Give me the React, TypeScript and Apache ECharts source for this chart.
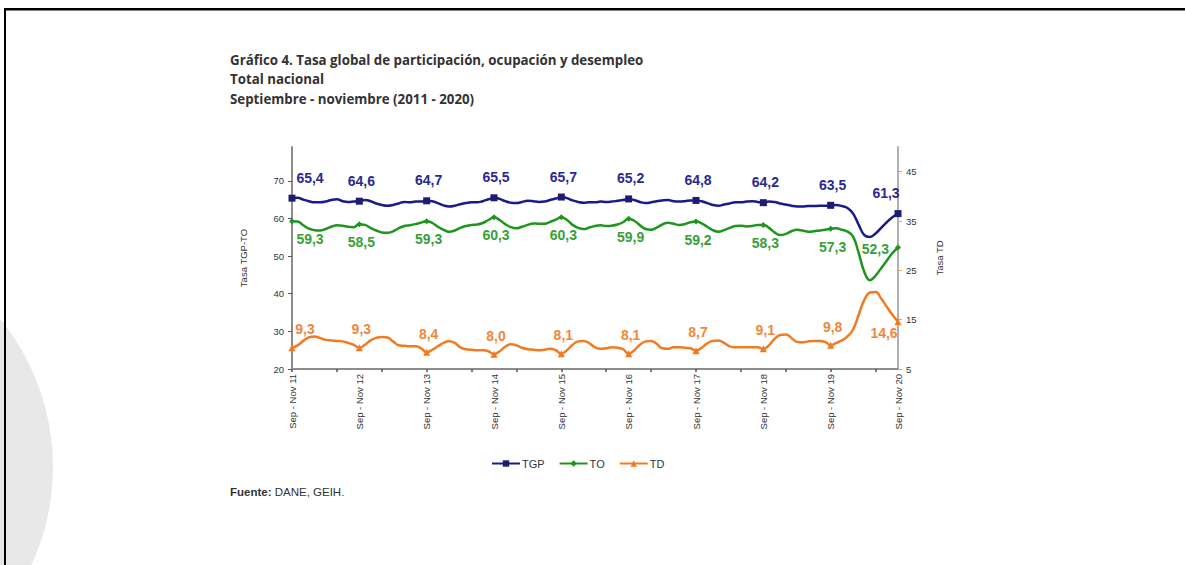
import React, { useEffect, useRef } from "react";
import * as echarts from "echarts";

const QUARTERS = ["Sep - Nov", "Oct - Dic", "Nov - Ene", "Dic - Feb", "Ene - Mar", "Feb - Abr", "Mar - May", "Abr - Jun", "May - Jul", "Jun - Ago", "Jul - Sep", "Ago - Oct"];
const START_YEAR = 11;
const END_YEAR = 20;

const TGP = [
  65.4, 65.5, 65.0, 64.6, 64.3, 64.3, 64.5, 64.9, 65.1, 64.6, 64.4, 64.5, 64.6,
  64.9, 64.6, 64.0, 63.6, 63.4, 63.6, 64.0, 64.4, 64.3, 64.5, 64.5, 64.7,
  64.6, 64.1, 63.5, 63.2, 63.4, 63.8, 64.1, 64.3, 64.3, 64.6, 65.1, 65.5,
  65.2, 64.6, 64.2, 64.1, 64.4, 64.7, 64.6, 64.4, 64.5, 64.9, 65.3, 65.7,
  65.4, 64.8, 64.4, 64.2, 64.3, 64.3, 64.5, 64.4, 64.5, 64.7, 64.9, 65.2,
  64.9, 64.4, 64.1, 64.3, 64.6, 64.8, 64.9, 64.6, 64.5, 64.6, 64.8, 64.8,
  64.6, 64.1, 63.6, 63.4, 63.7, 64.0, 64.3, 64.3, 64.5, 64.6, 64.4, 64.2,
  64.5, 64.4, 64.0, 63.7, 63.4, 63.2, 63.2, 63.3, 63.3, 63.4, 63.4, 63.5,
  63.6, 63.3, 62.8, 61.3, 58.3, 55.6, 55.1, 56.0, 57.5, 59.0, 60.3, 61.3,
];

const TO = [
  59.3, 59.2, 58.2, 57.3, 56.9, 56.8, 57.2, 57.8, 58.2, 58.1, 57.8, 57.7, 58.5,
  58.3, 57.5, 56.8, 56.3, 56.2, 56.6, 57.4, 58.0, 58.2, 58.5, 58.9, 59.3,
  58.8, 57.8, 57.0, 56.5, 56.8, 57.5, 58.0, 58.3, 58.4, 58.8, 59.6, 60.3,
  59.6, 58.5, 57.7, 57.4, 57.8, 58.3, 58.7, 58.6, 58.6, 59.1, 59.7, 60.3,
  59.6, 58.3, 57.5, 57.2, 57.6, 58.0, 58.2, 58.0, 58.1, 58.4, 59.0, 59.9,
  59.4, 58.2, 57.2, 57.0, 57.6, 58.4, 58.9, 58.6, 58.3, 58.5, 59.0, 59.2,
  58.7, 57.8, 56.9, 56.5, 56.9, 57.5, 58.0, 58.1, 57.9, 58.0, 58.3, 58.3,
  57.5, 56.3, 55.6, 55.9, 56.6, 57.0, 56.8, 56.5, 56.6, 56.8, 57.0, 57.3,
  57.4, 57.0, 56.5, 55.2, 50.8, 45.8, 43.6, 44.8, 46.8, 48.8, 50.8, 52.3,
];

const TD = [
  9.3, 9.8, 10.7, 11.4, 11.6, 11.3, 10.9, 10.8, 10.7, 10.6, 10.3, 9.9, 9.3,
  9.9, 10.8, 11.3, 11.5, 11.4, 10.6, 9.8, 9.7, 9.6, 9.6, 9.2, 8.4,
  8.9, 9.6, 10.3, 10.6, 10.3, 9.4, 9.0, 8.9, 8.8, 8.8, 8.6, 8.0,
  8.6, 9.5, 10.0, 9.8, 9.3, 9.0, 8.9, 8.8, 8.9, 9.1, 8.8, 8.1,
  8.8, 9.9, 10.6, 10.7, 10.2, 9.4, 9.1, 9.2, 9.4, 9.3, 9.0, 8.1,
  8.8, 9.9, 10.6, 10.7, 10.1, 9.2, 9.1, 9.4, 9.4, 9.3, 9.2, 8.7,
  9.3, 10.2, 10.7, 10.8, 10.3, 9.6, 9.4, 9.4, 9.4, 9.4, 9.4, 9.1,
  9.8, 11.1, 11.9, 12.0, 11.3, 10.5, 10.4, 10.6, 10.7, 10.7, 10.5, 9.8,
  10.3, 10.8, 11.6, 13.0, 16.0, 19.0, 20.5, 20.6, 19.3, 17.6, 16.0, 14.6,
];

const LEFT_TICKS = [20, 30, 40, 50, 60, 70];
const RIGHT_TICKS = [5, 15, 25, 35, 45];

const TITLE_LINES = [
  "Gráfico 4. Tasa global de participación, ocupación y desempleo",
  "Total nacional",
  "Septiembre - noviembre (2011 - 2020)",
];

function buildCategories(): string[] {
  const cats: string[] = [];
  for (let y = START_YEAR; y <= END_YEAR; y++) {
    for (let q = 0; q < QUARTERS.length; q++) {
      if (y === END_YEAR && q > 0) break;
      const yr = q >= 2 ? y + 1 : y;
      cats.push(QUARTERS[q] + " " + String(yr));
    }
  }
  return cats;
}

const fmt = (v: number) => v.toFixed(1).replace(".", ",");

function buildData(values: number[], symbol: string, size: number, labelFor: (i: number, last: boolean) => any) {
  return values.map((v, i) => {
    if (i % 12 === 0) {
      return {
        value: v,
        symbol,
        symbolSize: size,
        label: { show: true, ...labelFor(i, i === values.length - 1) },
      };
    }
    return { value: v, symbol: "none" };
  });
}

export default function App() {
  const ref = useRef<HTMLDivElement>(null);
  useEffect(() => {
    if (!ref.current) return;
    const chart = echarts.init(ref.current, null, { renderer: "svg" });
    const categories = buildCategories();
    const labelFont = { fontFamily: "Liberation Sans, Arial, sans-serif", fontSize: 14, fontWeight: "bold" as const };

    const tgpData = buildData(TGP, "rect", 7, (i, last) => {
      if (i === 0) return { position: "top", distance: 10, offset: [18, 0] };
      if (last) return { position: "top", distance: 10, offset: [-12, 0] };
      return { position: "top", distance: 10, offset: [2, 0] };
    });
    const toData = buildData(TO, "diamond", 6, (i, last) => {
      if (i === 0) return { position: "bottom", distance: 8, offset: [18, 0] };
      if (last) return { position: "left", distance: 6, offset: [0, 2] };
      return { position: "bottom", distance: 8, offset: [2, 0] };
    });
    const tdData = buildData(TD, "triangle", 7, (i, last) => {
      if (i === 0) return { position: "top", distance: 8, offset: [13, 0] };
      if (last) return { position: "bottom", distance: 1, offset: [-14, 0] };
      return { position: "top", distance: 8, offset: [2, 0] };
    });

    const axisText = { color: "#333", fontSize: 9.5, fontFamily: "Liberation Sans, Arial, sans-serif" };

    chart.setOption({
      animation: false,
      backgroundColor: "#ffffff",
      textStyle: { fontFamily: "Liberation Sans, Arial, sans-serif" },
      graphic: [
        { type: "circle", z: -10, shape: { cx: -181, cy: 467, r: 234 }, style: { fill: "#e8e8e8" }, silent: true },
        { type: "rect", z: 100, shape: { x: 4, y: 8, width: 1181, height: 2.5 }, style: { fill: "#000" } },
        { type: "rect", z: 100, shape: { x: 4, y: 8, width: 2, height: 557 }, style: { fill: "#000" } },
        ...TITLE_LINES.map((t, k) => ({
          type: "text",
          left: 230,
          top: 53 + k * 19.5,
          style: { text: t, fill: "#333", font: "bold 13.3px 'Open Sans', 'Noto Sans', sans-serif" },
        })),
        {
          type: "text",
          left: 230,
          top: 486,
          style: {
            text: "{b|Fuente:} DANE, GEIH.",
            fill: "#333",
            font: "11.5px 'Liberation Sans', Arial, sans-serif",
            rich: {
              b: { fontWeight: "bold", fontSize: 11.5, fill: "#333", fontFamily: "Liberation Sans, Arial, sans-serif" },
            },
          },
        },
      ],
      legend: {
        left: 486,
        top: 453,
        itemWidth: 28,
        itemHeight: 8,
        itemGap: 14,
        textStyle: { color: "#333", fontSize: 11, fontFamily: "Liberation Sans, Arial, sans-serif", padding: [0, 0, 0, -3] },
        data: ["TGP", "TO", "TD"],
      },
      grid: { left: 292, right: 287, top: 147, bottom: 196, containLabel: false },
      xAxis: {
        type: "category",
        data: categories,
        boundaryGap: false,
        axisLine: { lineStyle: { color: "#8c8c8c", width: 2 } },
        axisTick: { show: true, interval: 7, length: 3, lineStyle: { color: "#555", width: 1.5 } },
        axisLabel: { ...axisText, interval: 11, rotate: 90, margin: 5 },
        splitLine: { show: false },
      },
      yAxis: [
        {
          type: "value",
          min: 20,
          max: 79,
          interval: 10,
          name: "Tasa TGP-TO",
          nameLocation: "middle",
          nameRotate: 90,
          nameGap: 44,
          nameTextStyle: { ...axisText },
          axisLine: { show: true, lineStyle: { color: "#8c8c8c", width: 2 } },
          axisTick: { show: true, length: 4, lineStyle: { color: "#555" } },
          axisLabel: {
            ...axisText,
            margin: 8,
            showMaxLabel: false,
            formatter: (v: number) => (LEFT_TICKS.indexOf(v) >= 0 ? String(v) : ""),
          },
          splitLine: { show: false },
        },
        {
          type: "value",
          min: 5,
          max: 50,
          interval: 10,
          position: "right",
          name: "Tasa TD",
          nameLocation: "middle",
          nameRotate: 90,
          nameGap: 36,
          nameTextStyle: { ...axisText },
          axisLine: { show: true, lineStyle: { color: "#b0b0b0", width: 2 } },
          axisTick: { show: true, length: 4, lineStyle: { color: "#e8a060" } },
          axisLabel: {
            ...axisText,
            margin: 8,
            showMaxLabel: false,
            formatter: (v: number) => (RIGHT_TICKS.indexOf(v) >= 0 ? String(v) : ""),
          },
          splitLine: { show: false },
        },
      ],
      series: [
        {
          name: "TGP",
          type: "line",
          yAxisIndex: 0,
          data: tgpData,
          smooth: 0.45,
          symbol: "rect",
          symbolSize: 7,
          showAllSymbol: true,
          lineStyle: { color: "#1a1a8c", width: 2.5 },
          itemStyle: { color: "#1c1c70" },
          label: { show: false, ...labelFont, color: "#2a2a8e", formatter: (p: any) => fmt(p.value) },
          z: 3,
        },
        {
          name: "TO",
          type: "line",
          yAxisIndex: 0,
          data: toData,
          smooth: 0.45,
          symbol: "diamond",
          symbolSize: 6,
          showAllSymbol: true,
          lineStyle: { color: "#1e961e", width: 2.5 },
          itemStyle: { color: "#1e961e" },
          label: { show: false, ...labelFont, color: "#38a038", formatter: (p: any) => fmt(p.value) },
          z: 3,
        },
        {
          name: "TD",
          type: "line",
          yAxisIndex: 1,
          data: tdData,
          smooth: 0.45,
          symbol: "triangle",
          symbolSize: 7,
          showAllSymbol: true,
          lineStyle: { color: "#f07b22", width: 2.5 },
          itemStyle: { color: "#f07b22" },
          label: { show: false, ...labelFont, color: "#f0883a", formatter: (p: any) => fmt(p.value) },
          z: 3,
        },
      ],
    });
    return () => chart.dispose();
  }, []);
  return <div ref={ref} style={{ position: "fixed", left: 0, top: 0, width: 1185, height: 565 }} />;
}
